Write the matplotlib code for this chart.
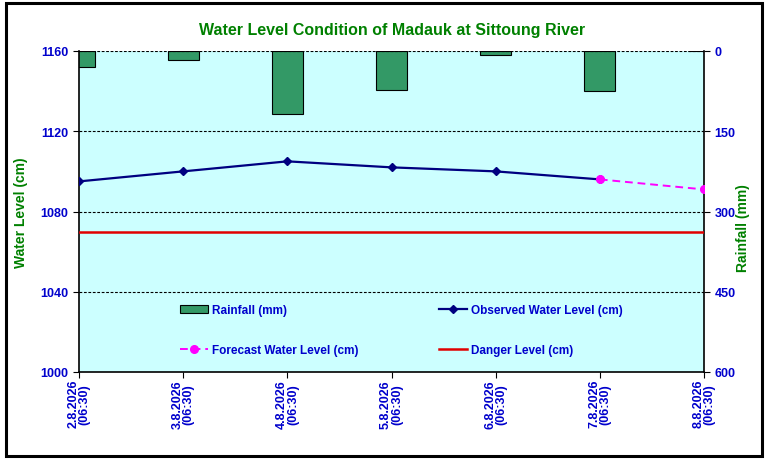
import matplotlib
matplotlib.use('Agg')
import numpy as np
import matplotlib.pyplot as plt
from matplotlib.patches import Rectangle

# Data
dates = ["2.8.2026\n(06:30)", "3.8.2026\n(06:30)", "4.8.2026\n(06:30)", "5.8.2026\n(06:30)",
         "6.8.2026\n(06:30)", "7.8.2026\n(06:30)", "8.8.2026\n(06:30)"]
rainfall = [30, 17, 118, 72, 8, 74, 0]
observed = [1095, 1100, 1105, 1102, 1100, 1096]
forecast_idx = [5, 6]
forecast = [1096, 1091]
danger_level = 1070

TITLE_GREEN = '#008000'
TICK_BLUE = '#0000CC'

plt.rcParams['font.family'] = ['Liberation Sans', 'DejaVu Sans']

fig = plt.figure(figsize=(7.66, 4.64), dpi=100)
fig.patch.set_facecolor('white')

# chart border
fig.patches.append(Rectangle((6 / 766, 1 - 457 / 464), 756 / 766, 453 / 464,
                             transform=fig.transFigure, fill=False,
                             edgecolor='black', linewidth=2.2))

ax = fig.add_axes([79 / 766, 1 - 373 / 464, 625 / 766, 321 / 464])
x = np.arange(len(dates))

ax2 = ax.twinx()
ax2.set_ylim(600, 0)
bars = ax2.bar(x, rainfall, width=0.3, color='#339966', edgecolor='black',
               linewidth=0.8, label='Rainfall (mm)', zorder=2)

ax.set_zorder(ax2.get_zorder() + 1)
ax.patch.set_visible(False)
ax2.patch.set_visible(True)
ax2.patch.set_facecolor('#CCFFFF')

ax.set_ylim(1000, 1160)
ax.set_xlim(0, len(dates) - 1)
ax.set_yticks([1000, 1040, 1080, 1120, 1160])
for yv in [1040, 1080, 1120, 1160]:
    ax.axhline(yv, color='black', linestyle=(0, (2.5, 1.5)), linewidth=0.8, zorder=1)

danger_line, = ax.plot(x, [danger_level] * len(x), color='#E00000', linewidth=1.8,
                       label='Danger Level (cm)', zorder=3)
obs_line, = ax.plot(x[:len(observed)], observed, color='#000080', linewidth=1.6,
                    marker='D', markersize=4.5, label='Observed Water Level (cm)', zorder=4)
fc_line, = ax.plot(forecast_idx, forecast, color='#FF00FF', linewidth=1.4,
                   linestyle=(0, (4, 2.5)), marker='o', markersize=5.5,
                   label='Forecast Water Level (cm)', zorder=4)

ax.set_xticks(x)
ax.set_xticklabels(dates, rotation=90, fontsize=9, fontweight='bold',
                   color=TICK_BLUE, linespacing=0.9)
ax.tick_params(axis='y', labelsize=9, labelcolor=TICK_BLUE, length=4, direction='out')
for lbl in ax.get_yticklabels():
    lbl.set_fontweight('bold')
ax.tick_params(axis='x', length=4, direction='out', pad=1)

ax2.set_yticks([0, 150, 300, 450, 600])
ax2.tick_params(axis='y', labelsize=9, labelcolor=TICK_BLUE, length=4, direction='out')
for lbl in ax2.get_yticklabels():
    lbl.set_fontweight('bold')

for a in (ax, ax2):
    for s in ('top', 'left', 'right', 'bottom'):
        a.spines[s].set_visible(False)
ax.spines['left'].set_visible(True)
ax.spines['bottom'].set_visible(True)
ax2.spines['right'].set_visible(True)
for s in ('left', 'bottom'):
    ax.spines[s].set_linewidth(1.2)
ax2.spines['right'].set_linewidth(1.2)

ax.set_ylabel('Water Level (cm)', color=TITLE_GREEN, fontsize=10, fontweight='bold')
ax2.set_ylabel('Rainfall (mm)', color=TITLE_GREEN, fontsize=10, fontweight='bold')
ax.yaxis.set_label_coords(-0.082, 0.5)
ax2.yaxis.set_label_coords(1.051, 0.45)

fig.text(392 / 766, 1 - 31 / 464, 'Water Level Condition of Madauk at Sittoung River',
         ha='center', va='center', color=TITLE_GREEN, fontsize=11.5, fontweight='bold')

# column-major order so rows read Rainfall/Observed, Forecast/Danger
leg = ax.legend([bars, fc_line, obs_line, danger_line],
                ['Rainfall (mm)', 'Forecast Water Level (cm)',
                 'Observed Water Level (cm)', 'Danger Level (cm)'],
                ncol=2, loc='center left', bbox_to_anchor=(0.1616, 0.131), frameon=False,
                fontsize=8.5, handlelength=2.4, handletextpad=0.3,
                columnspacing=6.8, labelspacing=2.4, borderpad=0, borderaxespad=0)
for t in leg.get_texts():
    t.set_color(TICK_BLUE)
    t.set_fontweight('bold')

fig.savefig('out.png', dpi=100)
